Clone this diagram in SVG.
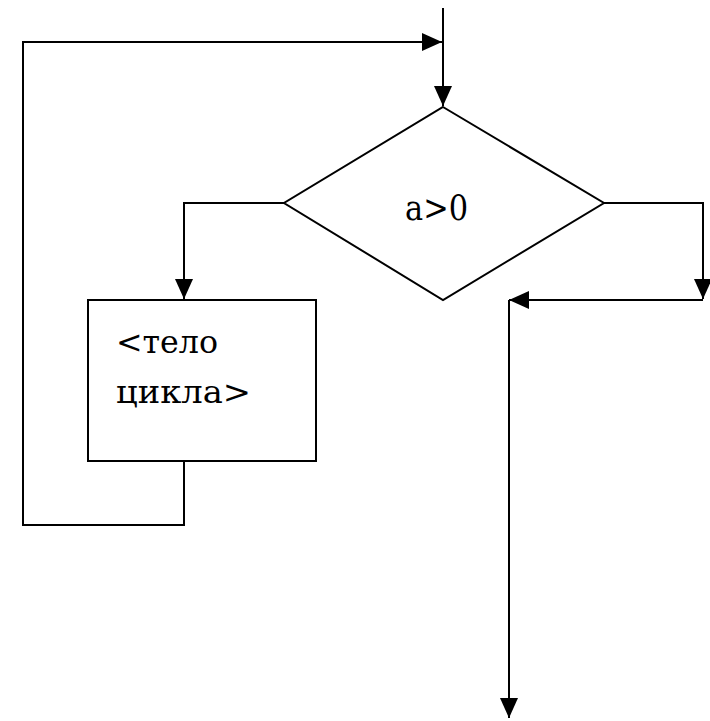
<svg xmlns="http://www.w3.org/2000/svg" width="710" height="721" viewBox="0 0 710 721">
<style>
.ln{fill:none;stroke:#000;stroke-width:2}
.sh{fill:#fff;stroke:#000;stroke-width:2}
.t{font-family:'DejaVu Serif','Liberation Serif',serif;fill:#000}
</style>
<defs>
<marker id="ah" viewBox="0 0 20 18" refX="20" refY="9" markerWidth="20" markerHeight="18" markerUnits="userSpaceOnUse" orient="auto"><path d="M0,0 L20,9 L0,18 Z" fill="#000"/></marker>
</defs>
<rect width="710" height="721" fill="#fff"/>
<g id="connectors">
<path class="ln" d="M443,8 V106" marker-end="url(#ah)"/>
<path class="ln" d="M184,461 V525 H23 V42 H442" marker-end="url(#ah)"/>
<path class="ln" d="M284,203 H184 V299" marker-end="url(#ah)"/>
<path class="ln" d="M604,203 H703 V299" marker-end="url(#ah)"/>
<path class="ln" d="M703,300 H509" marker-end="url(#ah)"/>
<path class="ln" d="M509,300 V718" marker-end="url(#ah)"/>
</g>
<g id="decision">
<polygon class="sh" points="443,107 604,203 443,300 284,203"/>
<text class="t" x="405" y="220" font-size="36" textLength="63" lengthAdjust="spacingAndGlyphs">a&gt;0</text>
</g>
<g id="body">
<rect class="sh" x="88" y="300" width="228" height="161"/>
<text class="t" x="116" y="353" font-size="32" textLength="102" lengthAdjust="spacingAndGlyphs">&lt;тело</text>
<text class="t" x="116" y="403" font-size="32" textLength="135" lengthAdjust="spacingAndGlyphs">цикла&gt;</text>
</g>
</svg>
